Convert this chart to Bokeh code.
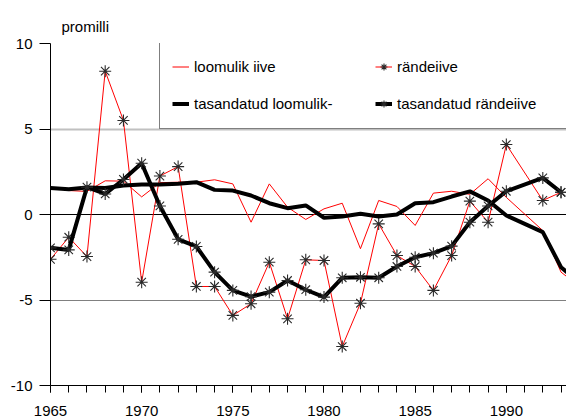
from bokeh.plotting import figure
from bokeh.models import (Legend, LegendItem, FixedTicker, SingleIntervalTicker, Grid,
                          Range1d, Title, ColumnDataSource)
from bokeh.embed import file_html
from bokeh.resources import INLINE

# ---- data (per mille) ----
years_nat = [1965, 1966, 1967, 1968, 1969, 1970, 1971, 1972, 1973, 1974, 1975, 1976, 1977,
             1978, 1979, 1980, 1981, 1982, 1983, 1984, 1985, 1986, 1987, 1988, 1989, 1990,
             1992, 1993, 1994]
loomulik_iive = [1.6, 1.4, 1.35, 1.97, 1.95, 1.03, 1.86, 1.89, 1.89, 2.03, 1.79, -0.45, 1.79,
                 0.43, -0.29, 0.33, 0.66, -2.0, 0.82, 0.47, -0.64, 1.25, 1.36, 1.18, 2.09, 1.0,
                 -0.94, -3.37, -4.2]
tasandatud_loomulik = [1.55, 1.47, 1.58, 1.55, 1.7, 1.75, 1.76, 1.8, 1.89, 1.44, 1.4, 1.11, 0.66,
                       0.37, 0.53, -0.19, -0.12, 0.04, -0.12, 0.0, 0.66, 0.72, 1.05, 1.35, 0.82,
                       -0.06, -1.03, -3.08, -4.0]

years_mig = [1965, 1966, 1967, 1968, 1969, 1970, 1971, 1972, 1973, 1974, 1975, 1976, 1977,
             1978, 1979, 1980, 1981, 1982, 1983, 1984, 1985, 1986, 1987, 1988, 1989, 1990,
             1992, 1993]
randeiive = [-2.62, -1.33, -2.46, 8.38, 5.5, -3.96, 2.25, 2.8, -4.21, -4.21, -5.9, -5.22, -2.79,
             -6.1, -2.65, -2.69, -7.72, -5.19, -0.55, -2.4, -3.04, -4.44, -2.4, 0.78, -0.45,
             4.09, 0.82, 1.3]
tasandatud_rande = [-1.95, -2.07, 1.6, 1.2, 2.05, 3.0, 0.5, -1.45, -1.87, -3.37, -4.44, -4.8,
                    -4.54, -3.86, -4.4, -4.83, -3.7, -3.67, -3.7, -3.04, -2.5, -2.26, -1.85,
                    -0.45, 0.5, 1.36, 2.14, 1.3]

y_ticks = [-10, -5, 0, 5, 10]
y_tick_labels = {-10: "-10", -5: "-5", 0: "0", 5: "5", 10: "10"}
labels = ["loomulik iive", "rändeiive", "tasandatud loomulik-", "tasandatud rändeiive"]

FONT = "Liberation Sans"

src_nat = ColumnDataSource(dict(x=years_nat, a=loomulik_iive, b=tasandatud_loomulik))
src_mig = ColumnDataSource(dict(x=years_mig, a=randeiive, b=tasandatud_rande))

p = figure(width=566, height=419, x_range=Range1d(1965, 1993.3), y_range=Range1d(-10, 10),
           output_backend="svg", toolbar_location=None,
           min_border_left=50, min_border_right=0, min_border_top=43, min_border_bottom=34)
p.outline_line_color = None
p.background_fill_color = "white"
p.border_fill_color = "white"

# axes
p.yaxis.ticker = FixedTicker(ticks=y_ticks)
p.yaxis.major_label_overrides = y_tick_labels
p.yaxis.major_tick_out = 11
p.yaxis.major_tick_in = 0
p.yaxis.minor_tick_out = 0
p.yaxis.major_label_standoff = 7
p.xaxis.ticker = SingleIntervalTicker(interval=5, num_minor_ticks=5)
p.xaxis.major_tick_out = 7
p.xaxis.major_tick_in = 0
p.xaxis.minor_tick_out = 7
p.xaxis.minor_tick_in = 0
p.xaxis.major_label_standoff = 13
for ax in (p.xaxis, p.yaxis):
    ax.axis_line_color = "black"
    ax.major_tick_line_color = "black"
    ax.minor_tick_line_color = "black"
    ax.major_label_text_font = FONT
    ax.major_label_text_font_size = "15px"
    ax.major_label_text_color = "black"

# grids
p.xgrid.visible = False
p.ygrid.ticker = FixedTicker(ticks=[0, 10])
p.ygrid.grid_line_color = "black"
p.ygrid.grid_line_width = 1
p.add_layout(Grid(dimension=1, ticker=FixedTicker(ticks=[5]), grid_line_color="#808080",
                  grid_line_width=2, grid_line_dash="1 1"))
p.add_layout(Grid(dimension=1, ticker=FixedTicker(ticks=[-5]), grid_line_color="black",
                  grid_line_width=1, grid_line_dash="1 1"))

# series
r1 = p.line("x", "a", source=src_nat, line_color="#ff0000", line_width=1)
r2l = p.line("x", "a", source=src_mig, line_color="#ff0000", line_width=1)
r2m = p.scatter("x", "a", source=src_mig, marker="asterisk", size=12, line_color="#2a2a2a",
                line_width=1.1)
r3 = p.line("x", "b", source=src_nat, line_color="black", line_width=4)
r4l = p.line("x", "b", source=src_mig, line_color="black", line_width=4)
r4m = p.scatter("x", "b", source=src_mig, marker="asterisk", size=12, line_color="#2a2a2a",
                line_width=1.1)

legend = Legend(items=[LegendItem(label=labels[0], renderers=[r1]),
                       LegendItem(label=labels[2], renderers=[r3]),
                       LegendItem(label=labels[1], renderers=[r2l, r2m]),
                       LegendItem(label=labels[3], renderers=[r4l, r4m])],
                location=(109, 256), ncols=2, padding=12, spacing=12,
                glyph_width=17, glyph_height=25, label_height=25, label_width=169,
                label_standoff=5, border_line_color="black", border_line_width=1,
                background_fill_color="white", background_fill_alpha=1, margin=0,
                label_text_font=FONT, label_text_font_size="15px", label_text_color="black")
p.add_layout(legend)

p.add_layout(Title(text="promilli", align="left", text_font=FONT, text_font_size="15px",
                   text_font_style="normal", text_color="black", standoff=18, offset=11),
             "above")

open("out.html", "w").write(file_html(p, INLINE))
